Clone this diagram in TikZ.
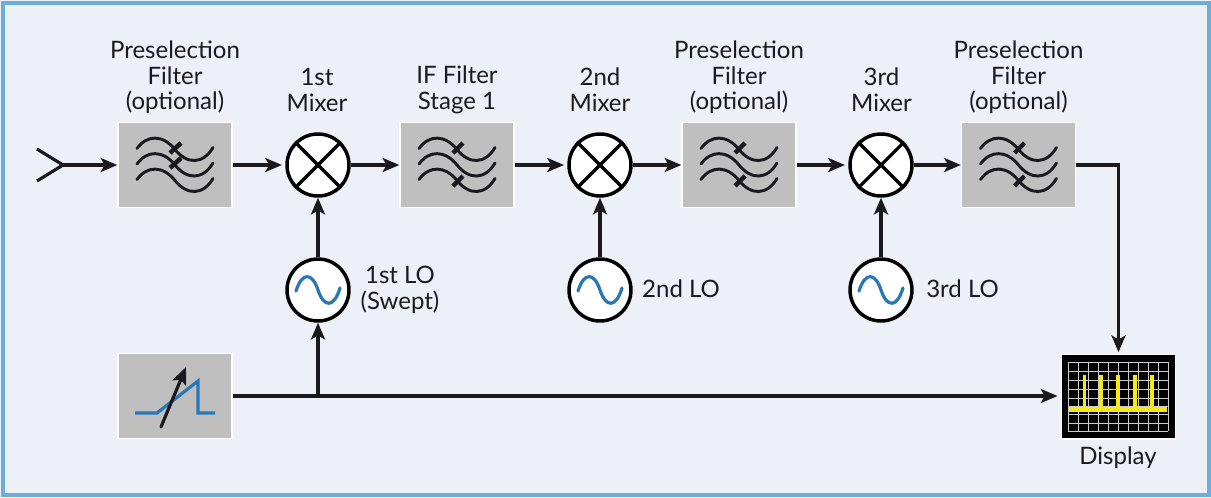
\documentclass[tikz,border=0pt]{standalone}
\usepackage{fontspec}
\setmainfont{Lato}
\usetikzlibrary{arrows.meta}
\definecolor{bgc}{HTML}{EDF0F7}
\definecolor{framec}{HTML}{6AAEDC}
\definecolor{boxc}{HTML}{BFBFBF}
\definecolor{linec}{HTML}{1A1A1E}
\definecolor{wavec}{HTML}{2A77B5}
\definecolor{scopey}{HTML}{F5EA14}
\tikzset{
  x=0.75pt,y=-0.75pt,
  flow/.style={draw=linec,line width=2.4pt,-{Stealth[length=12.5pt,width=10.5pt,inset=3pt]}},
  gapflow/.style={flow,shorten >=2.5pt},
  plainline/.style={draw=linec,line width=2.4pt},
  graybox/.style={draw=white,line width=1pt,fill=boxc,minimum width=85.5pt,minimum height=63.5pt,inner sep=0pt},
  roundel/.style={circle,draw=black,line width=2.6pt,fill=white,minimum size=46.5pt,inner sep=0pt},
  lab/.style={font=\fontsize{18pt}{19.2pt}\selectfont,align=center,text=linec,inner sep=0pt},
  filtcurve/.style={draw=linec,line width=2.2pt,line cap=round},
  slashmark/.style={draw=linec,line width=3.4pt},
  gridline/.style={draw=gray!40,line width=0.4pt},
}
\newcommand{\filtercurves}{%
    \foreach \yy in {-15.5,0,15.5}{
      \draw[filtcurve] (-38,\yy-1) .. controls (-28,\yy-15) and (-12,\yy-15) .. (0,\yy) .. controls (12,\yy+15) and (28,\yy+15) .. (38,\yy-2);
    }}
\newcommand{\filtersym}[1]{%
  \begin{scope}[shift={(#1)}]
    \filtercurves
    \draw[slashmark] (-5,-12) -- (6,-22);
    \draw[slashmark] (-5,3) -- (6,-7);
  \end{scope}}
\newcommand{\filtersymb}[1]{%
  \begin{scope}[shift={(#1)}]
    \filtercurves
    \draw[slashmark] (-4,-12) -- (6,-22);
    \draw[slashmark] (-4,21) -- (6,11);
  \end{scope}}
\newcommand{\mixsym}[1]{%
  \draw[draw=black,line width=2.4pt] (#1.north west) -- (#1.south east) (#1.north east) -- (#1.south west);}
\newcommand{\losym}[1]{%
  \begin{scope}[shift={(#1)}]
  \draw[draw=wavec,line width=2.4pt,line cap=round] (-22,1)
    .. controls (-16,-18) and (-6,-18) .. (0,0)
    .. controls (6,18) and (16,18) .. (22,-2);
  \end{scope}}
\begin{document}
\begin{tikzpicture}
\useasboundingbox (0,0) rectangle (1211,497);
\fill[bgc] (0,0) rectangle (1211,497);
\draw[framec,line width=3pt] (3,3) rectangle (1209,495);
% boxes
\node[graybox] (f1) at (175,165) {};
\node[graybox] (f2) at (457,165) {};
\node[graybox] (f3) at (739,165) {};
\node[graybox] (f4) at (1018.5,165) {};
\node[graybox] (ramp) at (175,396) {};
\node[roundel] (m1) at (318,165) {};
\node[roundel] (m2) at (600,165) {};
\node[roundel] (m3) at (881,165) {};
\node[roundel] (lo1) at (318,290) {};
\node[roundel] (lo2) at (600,290) {};
\node[roundel] (lo3) at (881,290) {};
\node[rectangle,draw=white,line width=1pt,fill=black,minimum width=85.5pt,minimum height=63.5pt,inner sep=0pt] (disp) at (1118.5,396.5) {};
% antenna
\coordinate (ant) at (63,165);
\coordinate (antu) at (37,149);
\coordinate (antd) at (37,181);
\draw[plainline] (antu) -- (ant) -- (antd);
\draw[flow] (ant) -- (f1.west);
% signal chain
\draw[gapflow] (f1.east) -- (m1.west);
\draw[flow] (m1.east) -- (f2.west);
\draw[gapflow] (f2.east) -- (m2.west);
\draw[flow] (m2.east) -- (f3.west);
\draw[gapflow] (f3.east) -- (m3.west);
\draw[flow] (m3.east) -- (f4.west);
\draw[flow,shorten >=1pt] (f4.east) -| (disp.north);
\draw[flow] (lo1) -- (m1);
\draw[flow] (lo2) -- (m2);
\draw[flow] (lo3) -- (m3);
\draw[gapflow] (ramp.east) -- (ramp.east -| disp.west);
\coordinate (tap) at (318,396);
\draw[flow] (tap) -- (lo1.south);
% symbols
\filtersym{175,165}
\filtersymb{457,165}
\filtersymb{739,165}
\filtersymb{1018.5,165}
\mixsym{m1}\mixsym{m2}\mixsym{m3}
\losym{lo1}\losym{lo2}\losym{lo3}
% ramp
\draw[wavec,line width=2.4pt] (135,413) -- (157,413) -- (198,381) -- (198,413) -- (215,413);
\draw[draw=linec,line width=2.4pt,line cap=round,-{Stealth[length=13pt,width=11pt,inset=2.5pt]}] (161,427) -- (186,367);
% display
\foreach \xx in {1068,1078,1088,1098,1108,1118,1128,1138,1148,1158,1168}{\draw[gridline] (\xx,362) -- (\xx,431);}
\foreach \yy in {362,371,380,389,398,406,414,423,431}{\draw[gridline] (1068,\yy) -- (1168,\yy);}
\foreach \xx in {1084.5,1101,1118,1135,1152}{\draw[scopey,line width=2.6pt] (\xx,375) -- (\xx,410);}
\draw[scopey,line width=4.4pt] (1069,409.5) -- (1167,409.5);
% labels
\node[lab] (t1) at (175,77.5) {Preselection\\Filter\\(optional)};
\node[lab] (t2) at (317,90) {1st\\Mixer};
\node[lab] (t3) at (457,90) {IF Filter\\Stage 1};
\node[lab] (t4) at (600,90) {2nd\\Mixer};
\node[lab] (t5) at (739,77.5) {Preselection\\Filter\\(optional)};
\node[lab] (t6) at (881.5,90) {3rd\\Mixer};
\node[lab] (t7) at (1018.5,77.5) {Preselection\\Filter\\(optional)};
\node[lab] (t8) at (400,290) {1st LO\\(Swept)};
\node[lab] (t9) at (681,288.5) {2nd LO};
\node[lab] (t10) at (962.5,288.5) {3rd LO};
\node[lab] (t11) at (1118,458) {Display};
\end{tikzpicture}
\end{document}
